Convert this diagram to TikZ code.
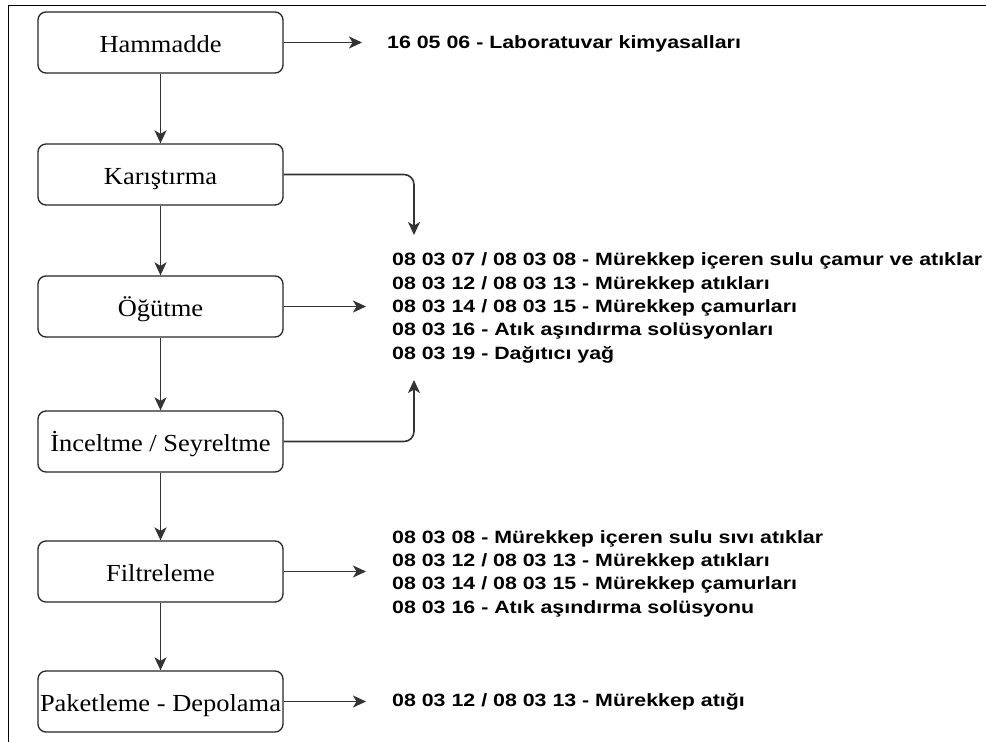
\documentclass[tikz,border=0pt]{standalone}
\usepackage{fontspec}
\setmainfont{Liberation Serif}[FakeStretch=1.08]
\newfontfamily\labfont{Liberation Sans}[FakeStretch=1.2]
\usetikzlibrary{arrows.meta}
\begin{document}
\begin{tikzpicture}[x=1pt,y=-1pt,
  stepbox/.style={draw=black!85, line width=1.3pt, rounded corners=8pt,
    minimum width=245pt, minimum height=61pt, inner sep=0pt,
    text height=21.5pt, text depth=1pt,
    font=\fontsize{24.5}{28}\selectfont},
  conn/.style={draw=black!80, line width=1.6pt, -{Stealth[length=13pt,width=12pt,inset=3.5pt]}},
  waste/.style={anchor=west, inner sep=0pt, align=left,
    font=\labfont\bfseries\fontsize{17.8}{23.4}\selectfont}
]
\useasboundingbox (0,0) rectangle (986,742);
\draw[line width=1.8pt] (8.5,742) -- (8.5,5.5) -- (986,5.5);

\node[stepbox] (h) at (160.5,42.5) {Hammadde};
\node[stepbox] (k) at (160.5,174.5) {Karıştırma};
\node[stepbox] (o) at (160.5,306.5) {Öğütme};
\node[stepbox] (i) at (160.5,441.5) {İnceltme / Seyreltme};
\node[stepbox] (f) at (160.5,571.5) {Filtreleme};
\node[stepbox] (p) at (160.5,701.5) {Paketleme - Depolama};

\draw[conn] (h) -- (k);
\draw[conn] (k) -- (o);
\draw[conn] (o) -- (i);
\draw[conn] (i) -- (f);
\draw[conn] (f) -- (p);

\node[waste] (w1) at (387,44) {16 05 06 - Laboratuvar kimyasalları};
\node[waste] (w2) at (392,308) {08 03 07 / 08 03 08 - Mürekkep içeren sulu çamur ve atıklar\\
08 03 12 / 08 03 13 - Mürekkep atıkları\\
08 03 14 / 08 03 15 - Mürekkep çamurları\\
08 03 16 - Atık aşındırma solüsyonları\\
08 03 19 - Dağıtıcı yağ};
\node[waste] (w3) at (392,573.5) {08 03 08 - Mürekkep içeren sulu sıvı atıklar\\
08 03 12 / 08 03 13 - Mürekkep atıkları\\
08 03 14 / 08 03 15 - Mürekkep çamurları\\
08 03 16 - Atık aşındırma solüsyonu};
\node[waste] (w4) at (392,702) {08 03 12 / 08 03 13 - Mürekkep atığı};

\coordinate (he) at (362,42.5);
\coordinate (oe) at (366,306.5);
\coordinate (fe) at (366,571.5);
\coordinate (pe) at (366,701.5);
\coordinate (kd) at (414,235);
\coordinate (iu) at (414,380);

\draw[conn] (h.east) -- (he);
\draw[conn] (o.east) -- (oe);
\draw[conn] (f.east) -- (fe);
\draw[conn] (p.east) -- (pe);
\draw[conn, rounded corners=10pt] (k.east) -| (kd);
\draw[conn, rounded corners=10pt] (i.east) -| (iu);
\end{tikzpicture}
\end{document}
